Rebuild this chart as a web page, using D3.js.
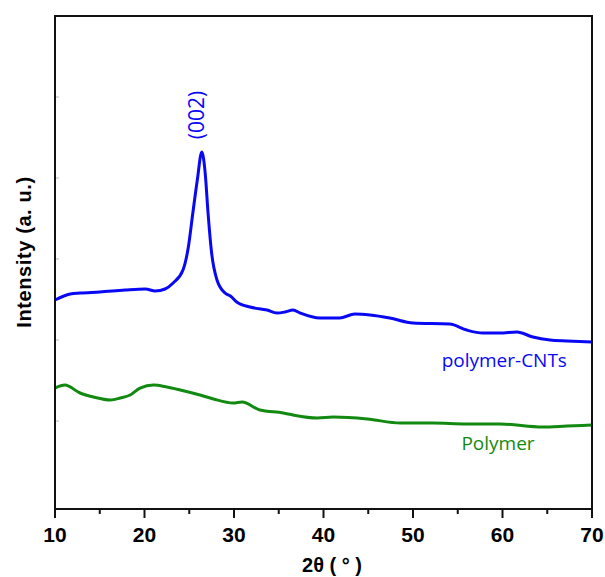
<!DOCTYPE html>
<html>
<head>
<meta charset="utf-8">
<script src="https://cdn.jsdelivr.net/npm/d3@7"></script>
<style>
  body { margin: 0; background: #fff; }
  svg { display: block; }
</style>
</head>
<body>
<svg id="chart" width="605" height="577"></svg>
<script>
// XRD patterns: [2theta (deg), intensity (a.u.)]
var cntData = [
  [10.0, 2494], [11.7, 2568], [12.8, 2580], [15.0, 2593], [17.8, 2617],
  [20.1, 2630], [21.2, 2605], [22.3, 2630], [23.2, 2704], [24.3, 2864],
  [24.9, 3148], [25.4, 3568], [25.9, 3975], [26.4, 4321], [26.8, 4037],
  [27.1, 3568], [27.5, 3074], [28.1, 2741], [29.0, 2580], [29.6, 2543],
  [30.3, 2469], [31.8, 2407], [33.7, 2370], [34.8, 2333], [35.7, 2346],
  [36.6, 2370], [37.4, 2333], [39.6, 2272], [41.8, 2272], [43.5, 2321],
  [45.2, 2309], [47.4, 2272], [50.0, 2210], [54.1, 2198], [56.0, 2123],
  [57.8, 2086], [59.7, 2086], [61.6, 2099], [63.4, 2037], [65.3, 2000],
  [67.2, 1988], [70.0, 1975]
];
var polymerData = [
  [10.0, 1407], [11.1, 1444], [12.8, 1346], [14.3, 1296], [16.2, 1259],
  [17.3, 1284], [18.4, 1321], [19.5, 1407], [21.0, 1444], [22.5, 1420],
  [24.0, 1383], [26.2, 1321], [27.7, 1272], [29.9, 1222], [30.9, 1235],
  [32.9, 1136], [35.5, 1099], [36.6, 1074], [39.3, 1037], [41.1, 1049],
  [44.9, 1025], [48.6, 975], [52.2, 975], [56.0, 963], [59.7, 963],
  [64.5, 926], [67.2, 938], [70.0, 951]
];
var xMajorTicks = [10, 20, 30, 40, 50, 60, 70];
var xMinorTicks = [15, 25, 35, 45, 55, 65];
var yTicks = [1000, 2000, 3000, 4000, 5000];
var peakLabel = { text: '(002)', x: 26.4, y: 4321 };

var margin = { top: 16, right: 13, bottom: 68, left: 55 };
var width = 605 - margin.left - margin.right;
var height = 577 - margin.top - margin.bottom;

var svg = d3.select('#chart');
var g = svg.append('g')
  .attr('transform', 'translate(' + margin.left + ',' + margin.top + ')');

var xScale = d3.scaleLinear().domain([10, 70]).range([0, width]);
var yScale = d3.scaleLinear().domain([-86, 6000]).range([height, 0]);

var line = d3.line()
  .x(function(d) { return xScale(d[0]); })
  .y(function(d) { return yScale(d[1]); })
  .curve(d3.curveMonotoneX);

// traces
g.append('path')
  .datum(polymerData)
  .attr('d', line)
  .attr('fill', 'none')
  .attr('stroke', '#128a12')
  .attr('stroke-width', 3);

g.append('path')
  .datum(cntData)
  .attr('d', line)
  .attr('fill', 'none')
  .attr('stroke', '#0808f4')
  .attr('stroke-width', 3);

// frame
g.append('rect')
  .attr('width', width)
  .attr('height', height)
  .attr('fill', 'none')
  .attr('stroke', '#111')
  .attr('stroke-width', 2);

// x axis ticks
var xAxis = g.append('g').attr('transform', 'translate(0,' + height + ')');
xAxis.selectAll('line.major')
  .data(xMajorTicks)
  .enter().append('line')
  .attr('class', 'major')
  .attr('x1', xScale).attr('x2', xScale)
  .attr('y1', 0).attr('y2', 9)
  .attr('stroke', '#111').attr('stroke-width', 2);
xAxis.selectAll('line.minor')
  .data(xMinorTicks)
  .enter().append('line')
  .attr('class', 'minor')
  .attr('x1', xScale).attr('x2', xScale)
  .attr('y1', 0).attr('y2', 5)
  .attr('stroke', '#111').attr('stroke-width', 2);
xAxis.selectAll('text')
  .data(xMajorTicks)
  .enter().append('text')
  .attr('x', xScale)
  .attr('y', 33)
  .attr('text-anchor', 'middle')
  .attr('font-family', 'Liberation Sans, Arial, sans-serif')
  .attr('font-weight', 'bold')
  .attr('font-size', 21)
  .text(function(d) { return d; });

// faint y ticks (no labels, arbitrary units)
g.selectAll('line.ytick')
  .data(yTicks)
  .enter().append('line')
  .attr('class', 'ytick')
  .attr('x1', 1).attr('x2', 4)
  .attr('y1', yScale).attr('y2', yScale)
  .attr('stroke', '#bbb').attr('stroke-width', 1);

// axis titles
svg.append('text')
  .attr('x', 332)
  .attr('y', 572)
  .attr('text-anchor', 'middle')
  .attr('font-family', 'Liberation Sans, Arial, sans-serif')
  .attr('font-weight', 'bold')
  .attr('font-size', 20)
  .text('2\u03b8 ( \u00b0 )');

svg.append('text')
  .attr('transform', 'translate(31,252) rotate(-90)')
  .attr('text-anchor', 'middle')
  .attr('font-family', 'Liberation Sans, Arial, sans-serif')
  .attr('font-weight', 'bold')
  .attr('font-size', 20)
  .attr('letter-spacing', 0.6)
  .text('Intensity (a. u.)');

// annotations
g.append('text')
  .attr('transform', 'translate(' + (xScale(peakLabel.x) - 5) + ',' + (yScale(peakLabel.y) - 37) + ') rotate(-90)')
  .attr('text-anchor', 'middle')
  .attr('dy', '0.35em')
  .attr('fill', '#0808f4')
  .attr('font-family', 'Open Sans, sans-serif')
  .attr('font-size', 21)
  .text(peakLabel.text);

g.append('text')
  .attr('x', xScale(60.2))
  .attr('y', yScale(1000) - 54)
  .attr('fill', '#0808f4')
  .attr('font-family', 'Open Sans, sans-serif')
  .attr('font-size', 19)
  .attr('text-anchor', 'middle')
  .text('polymer-CNTs');

g.append('text')
  .attr('x', xScale(59.5))
  .attr('y', yScale(1000) + 29)
  .attr('fill', '#128a12')
  .attr('font-family', 'Open Sans, sans-serif')
  .attr('font-size', 19)
  .attr('text-anchor', 'middle')
  .text('Polymer');
</script>
</body>
</html>
